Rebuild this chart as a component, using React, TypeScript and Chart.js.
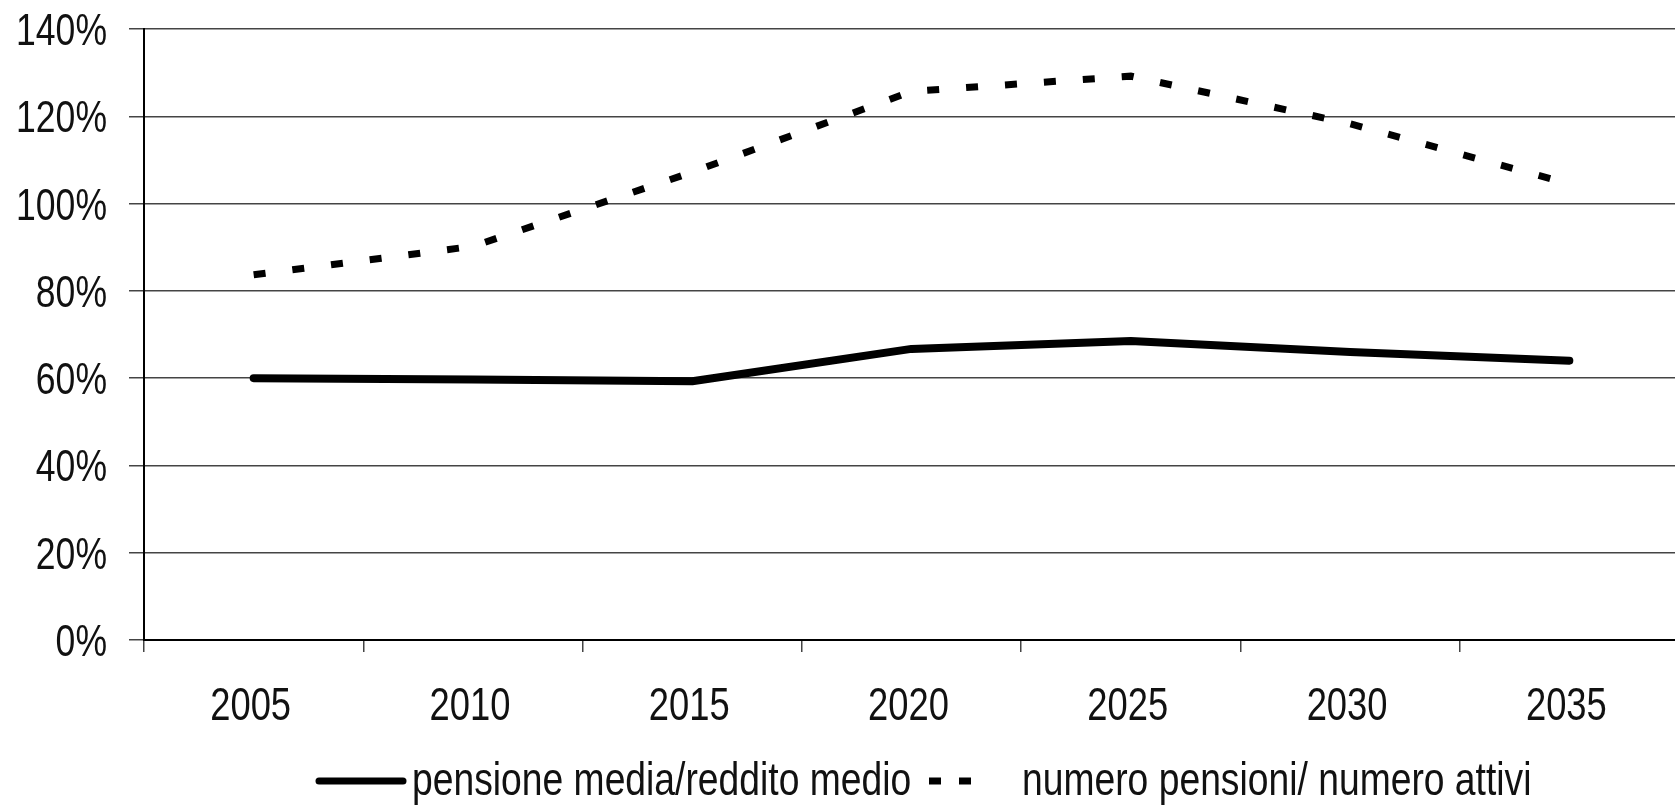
import React, { useEffect, useRef } from 'react';
import { Chart, registerables } from 'chart.js';

Chart.register(...registerables);

const years = ['2005', '2010', '2015', '2020', '2025', '2030', '2035'];
const pensioneMediaRedditoMedio = [60, 59.7, 59.3, 66.7, 68.5, 66.0, 64.0];
const numeroPensioniNumeroAttivi = [83.7, 90.2, 107.2, 125.7, 129.2, 118.3, 104.5];
const seriesLabels = ['pensione media/reddito medio', 'numero pensioni/ numero attivi'];
const yMin = 0;
const yMax = 140;
const yStep = 20;

const FONT = '"Liberation Sans", Arimo, Arial, sans-serif';
const NARROW = 0.79;

// draws text horizontally condensed (Arial Narrow look-alike)
function narrowText(ctx: any, text: string, x: number, y: number, size: number, align: string, sx: number) {
  ctx.save();
  ctx.font = `${size}px ${FONT}`;
  ctx.textAlign = align;
  ctx.textBaseline = 'alphabetic';
  ctx.translate(x, y);
  ctx.scale(sx, 1);
  ctx.fillText(text, 0, 0);
  ctx.restore();
}

const textPlugin = {
  id: 'narrowLabels',
  afterDraw(chart: any) {
    const ctx = chart.ctx;
    ctx.save();
    ctx.fillStyle = '#111';
    // y tick labels
    const ys = chart.scales.y;
    ys.ticks.forEach((t: any) => {
      const py = ys.getPixelForValue(t.value);
      narrowText(ctx, `${t.value}%`, 107, py + 16, 45, 'right', NARROW);
    });
    // x tick labels
    const xs = chart.scales.x;
    xs.ticks.forEach((t: any, i: number) => {
      const px = xs.getPixelForTick(i);
      narrowText(ctx, String(xs.getLabelForValue(t.value)), px - 3, 720, 46, 'center', NARROW);
    });
    // legend
    const ds = chart.data.datasets;
    const items = [
      { x0: 319, x1: 403, tx: 412 },
      { x0: 929, x1: 974, tx: 1022 },
    ];
    ds.forEach((d: any, i: number) => {
      const it = items[i];
      if (!it) return;
      ctx.save();
      ctx.beginPath();
      ctx.strokeStyle = d.borderColor;
      ctx.lineWidth = 7;
      const dashed = d.borderDash && d.borderDash.length;
      ctx.lineCap = dashed ? 'butt' : 'round';
      ctx.setLineDash(dashed ? [12, 18] : []);
      ctx.moveTo(it.x0, 781);
      ctx.lineTo(it.x1, 781);
      ctx.stroke();
      ctx.restore();
      narrowText(ctx, d.label, it.tx, 795, 46, 'left', 0.81);
    });
    ctx.restore();
  },
};

export default function App() {
  const ref = useRef<HTMLCanvasElement>(null);

  useEffect(() => {
    if (!ref.current) return;
    const chart = new Chart(ref.current, {
      type: 'line',
      data: {
        labels: years,
        datasets: [
          {
            label: seriesLabels[0],
            data: pensioneMediaRedditoMedio,
            borderColor: '#000',
            borderWidth: 8,
            pointRadius: 0,
            tension: 0,
            fill: false,
            borderCapStyle: 'round',
            borderJoinStyle: 'round',
          },
          {
            label: seriesLabels[1],
            data: numeroPensioniNumeroAttivi,
            borderColor: '#000',
            borderWidth: 7,
            pointRadius: 0,
            tension: 0,
            fill: false,
            borderDash: [12, 27],
            borderCapStyle: 'butt',
          },
        ],
      },
      options: {
        responsive: false,
        animation: false,
        devicePixelRatio: 1,
        layout: { padding: { top: 29, right: 11, left: 0, bottom: 0 } },
        plugins: {
          legend: { display: false },
          tooltip: { enabled: false },
        },
        scales: {
          x: {
            type: 'category',
            offset: true,
            grid: {
              display: true,
              drawOnChartArea: false,
              drawTicks: true,
              tickLength: 12,
              offset: true,
              color: '#444',
              lineWidth: 1.5,
            },
            border: { display: true, color: '#000', width: 2 },
            ticks: {
              font: { family: FONT, size: 6 },
              color: 'rgba(0,0,0,0)',
              padding: 0,
              maxRotation: 0,
              autoSkip: false,
            },
            afterFit: (s: any) => {
              s.height = 171;
            },
          },
          y: {
            min: yMin,
            max: yMax,
            ticks: {
              stepSize: yStep,
              callback: (v: any) => `${v}%`,
              font: { family: FONT, size: 6 },
              color: 'rgba(0,0,0,0)',
              padding: 0,
            },
            grid: {
              color: '#444',
              lineWidth: 1.5,
              tickLength: 15,
              drawTicks: true,
            },
            border: { display: true, color: '#000', width: 2 },
            afterFit: (s: any) => {
              s.width = 144;
            },
          },
        },
      },
      plugins: [textPlugin],
    });
    return () => chart.destroy();
  }, []);

  return (
    <div
      style={{
        position: 'absolute',
        left: 0,
        top: 0,
        width: 1675,
        height: 811,
        overflow: 'hidden',
        background: '#fff',
      }}
    >
      <canvas ref={ref} width={1690} height={811} style={{ width: 1690, height: 811, display: 'block' }} />
    </div>
  );
}
